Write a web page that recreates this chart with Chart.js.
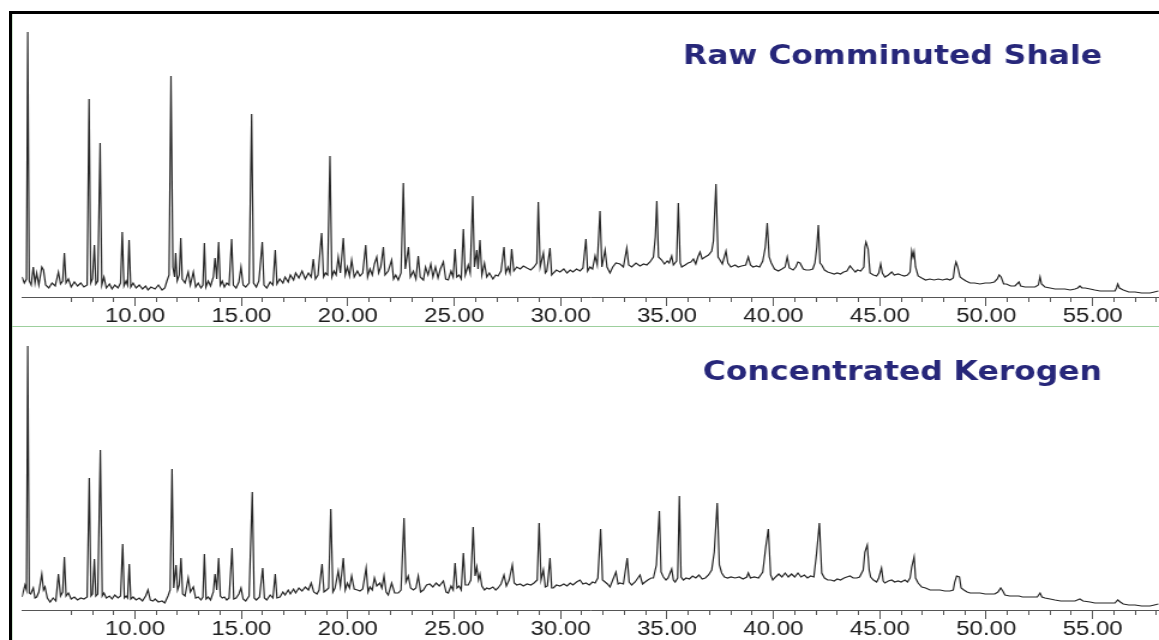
<!DOCTYPE html>
<html>
<head>
<meta charset="utf-8">
<script src="https://cdn.jsdelivr.net/npm/chart.js@4.4.1/dist/chart.umd.min.js"></script>
<style>
  html, body { margin: 0; padding: 0; background: #fff; }
  body { width: 1159px; height: 640px; position: relative; overflow: hidden; }
  /* the original figure is stretched sideways, so the canvases are too */
  .panel { position: absolute; left: 0; width: 966px; transform: scaleX(1.19979); transform-origin: 0 0; }
  #topPanel { top: 0; height: 326px; }
  #bottomPanel { top: 326px; height: 314px; }
  .frame { position: absolute; left: 9px; top: 11px; right: 0; bottom: 0; border-left: 3px solid #000; border-top: 3px solid #000; }
  .inner { position: absolute; left: 12px; top: 14px; bottom: 0; width: 1px; background: #cfe6cf; }
  .sep { position: absolute; left: 12px; right: 0; top: 326px; height: 1px; background: #9dcf9d; }
</style>
</head>
<body>
<div class="panel" id="topPanel"><canvas id="shale" width="966" height="326"></canvas></div>
<div class="panel" id="bottomPanel"><canvas id="kerogen" width="966" height="314"></canvas></div>
<div class="frame"></div>
<div class="inner"></div>
<div class="sep"></div>
<script>
// retention time (min) and abundance
const shaleTime = [4.69,4.80,4.90,4.96,5.03,5.12,5.22,5.30,5.38,5.48,5.62,5.70,5.80,5.95,6.10,6.25,6.40,6.50,6.60,6.68,6.76,6.87,7.00,7.15,7.30,7.45,7.60,7.75,7.84,7.92,8.00,8.09,8.16,8.25,8.36,8.44,8.54,8.65,8.80,8.92,9.05,9.20,9.32,9.40,9.48,9.58,9.65,9.72,9.80,9.91,10.05,10.20,10.35,10.50,10.61,10.75,10.94,11.10,11.27,11.40,11.50,11.60,11.69,11.78,11.86,11.91,11.98,12.08,12.15,12.22,12.35,12.50,12.60,12.74,12.85,12.97,13.10,13.19,13.26,13.33,13.44,13.55,13.68,13.76,13.84,13.93,14.01,14.10,14.20,14.31,14.42,14.54,14.62,14.75,14.88,14.98,15.08,15.20,15.36,15.48,15.57,15.70,15.82,15.98,16.06,16.19,16.35,16.48,16.59,16.67,16.80,16.95,17.05,17.20,17.30,17.45,17.55,17.70,17.85,18.00,18.15,18.28,18.38,18.48,18.60,18.77,18.86,18.95,19.05,19.16,19.25,19.35,19.45,19.55,19.65,19.79,19.88,19.98,20.08,20.18,20.30,20.45,20.57,20.70,20.84,20.93,21.04,21.15,21.25,21.36,21.45,21.55,21.67,21.75,21.90,22.06,22.15,22.25,22.37,22.50,22.61,22.70,22.85,22.94,23.08,23.20,23.31,23.40,23.55,23.65,23.77,23.90,24.00,24.12,24.24,24.35,24.49,24.60,24.72,24.85,24.95,25.04,25.12,25.23,25.33,25.43,25.52,25.66,25.75,25.87,25.95,26.06,26.12,26.21,26.30,26.42,26.53,26.65,26.82,26.95,27.06,27.20,27.34,27.42,27.53,27.62,27.70,27.80,27.94,28.10,28.25,28.42,28.60,28.75,28.88,28.95,29.04,29.19,29.28,29.35,29.50,29.58,29.66,29.80,29.97,30.15,30.30,30.45,30.58,30.75,30.91,31.05,31.19,31.27,31.38,31.50,31.62,31.72,31.85,31.94,32.09,32.18,32.32,32.45,32.60,32.79,32.95,33.11,33.20,33.34,33.54,33.73,33.90,34.05,34.20,34.36,34.45,34.52,34.60,34.75,34.88,35.01,35.10,35.22,35.30,35.45,35.53,35.62,35.69,35.85,35.99,36.12,36.24,36.35,36.45,36.55,36.65,36.79,36.95,37.10,37.18,37.30,37.40,37.49,37.60,37.77,37.86,38.00,38.20,38.34,38.50,38.70,38.82,38.92,39.04,39.20,39.35,39.50,39.62,39.71,39.80,39.90,40.05,40.23,40.40,40.55,40.65,40.75,40.93,41.05,41.15,41.25,41.40,41.53,41.70,41.85,41.95,42.04,42.11,42.19,42.27,42.40,42.55,42.70,42.85,43.00,43.15,43.30,43.45,43.60,43.72,43.85,43.95,44.10,44.25,44.30,44.35,44.45,44.54,44.70,44.85,44.95,45.04,45.12,45.24,45.40,45.56,45.68,45.86,46.00,46.15,46.30,46.42,46.50,46.56,46.61,46.68,46.80,46.97,47.15,47.35,47.55,47.75,47.95,48.15,48.30,48.45,48.52,48.58,48.66,48.77,48.90,49.05,49.24,49.45,49.71,49.95,50.18,50.38,50.52,50.61,50.70,50.82,50.95,51.15,51.35,51.54,51.62,51.82,52.05,52.30,52.45,52.53,52.60,52.76,53.00,53.23,53.50,53.70,53.95,54.17,54.30,54.40,54.50,54.65,54.88,55.10,55.35,55.60,55.82,56.05,56.12,56.18,56.26,56.44,56.70,56.99,57.30,57.50,57.70,57.90,58.09];
const shaleAbund = [20,14,18,265,16,12,30,14,24,12,30,27,12,9,14,11,25,13,16,44,14,18,10,15,11,14,10,12,198,14,18,52,13,16,154,12,20,9,13,8,12,9,14,65,11,16,12,57,10,14,9,12,8,11,7,10,8,12,7,9,16,22,221,30,20,44,16,22,59,18,14,25,12,25,10,14,9,12,54,10,16,11,20,39,18,55,12,16,10,14,12,58,12,9,15,30,12,10,14,183,14,10,16,55,12,9,15,12,47,13,18,14,20,15,22,17,24,19,26,18,24,20,38,18,22,64,20,24,22,141,20,26,22,40,24,59,22,30,21,37,20,26,21,24,52,20,28,22,33,40,24,30,50,22,26,37,18,22,17,24,114,28,50,20,26,18,41,20,17,30,22,33,20,30,19,28,35,18,17,26,20,48,20,22,18,68,22,32,24,101,30,47,28,57,22,34,20,24,18,22,21,26,50,24,30,24,48,26,30,28,31,29,27,30,34,95,30,44,24,26,49,22,24,27,25,28,24,27,25,28,26,29,58,26,30,28,41,32,86,30,47,30,24,30,34,33,30,49,32,30,34,31,33,32,35,40,60,96,40,37,33,36,34,41,32,36,94,34,30,32,34,35,38,33,40,45,38,40,42,46,56,113,40,37,33,46,34,30,32,30,31,32,40,32,30,31,30,36,50,74,40,34,28,26,28,30,40,29,27,30,35,34,28,27,27,28,34,50,72,34,32,27,25,24,23,24,23,25,26,31,28,25,27,26,30,50,55,48,24,22,21,24,33,24,20,22,25,22,23,22,21,22,25,46,40,45,30,21,19,17,18,17,18,17,18,17,19,30,35,30,20,18,16,14,14,13,14,14,15,18,22,20,13,13,11,11,15,11,10,10,10,12,20,13,10,9,8,8,8,7,8,9,11,9,9,8,7,6,6,6,6,9,13,9,7,5,5,4,4,4,5,6];

const kerogenTime = [4.69,4.83,4.90,4.96,5.03,5.10,5.22,5.30,5.38,5.48,5.62,5.70,5.77,5.88,6.01,6.15,6.28,6.40,6.50,6.60,6.68,6.76,6.87,7.00,7.15,7.30,7.45,7.60,7.75,7.85,7.93,8.00,8.09,8.16,8.25,8.37,8.46,8.54,8.65,8.80,8.92,9.05,9.20,9.32,9.42,9.50,9.58,9.65,9.73,9.80,9.91,10.05,10.20,10.35,10.50,10.61,10.72,10.85,10.94,11.10,11.27,11.40,11.55,11.65,11.74,11.82,11.93,12.00,12.08,12.16,12.24,12.35,12.50,12.60,12.74,12.85,12.97,13.10,13.19,13.26,13.34,13.44,13.55,13.68,13.76,13.84,13.93,14.01,14.10,14.20,14.31,14.42,14.56,14.64,14.75,14.88,14.98,15.08,15.20,15.36,15.51,15.60,15.70,15.85,16.00,16.08,16.19,16.35,16.48,16.59,16.67,16.81,16.95,17.05,17.20,17.30,17.45,17.55,17.70,17.85,18.00,18.15,18.28,18.40,18.55,18.65,18.79,18.88,19.00,19.10,19.20,19.30,19.40,19.55,19.65,19.79,19.88,19.98,20.08,20.18,20.30,20.45,20.57,20.70,20.86,20.95,21.04,21.15,21.25,21.36,21.51,21.60,21.70,21.80,21.90,22.06,22.20,22.37,22.50,22.64,22.73,22.84,22.95,23.08,23.20,23.31,23.42,23.55,23.70,23.85,24.00,24.15,24.30,24.49,24.62,24.72,24.85,24.95,25.04,25.13,25.23,25.33,25.43,25.52,25.66,25.78,25.89,25.98,26.06,26.14,26.21,26.30,26.42,26.53,26.65,26.82,26.95,27.06,27.20,27.34,27.45,27.58,27.73,27.82,27.94,28.10,28.25,28.42,28.60,28.75,28.90,28.99,29.08,29.19,29.28,29.38,29.50,29.58,29.66,29.80,29.97,30.15,30.30,30.45,30.58,30.75,30.91,31.05,31.19,31.35,31.50,31.62,31.75,31.88,31.97,32.09,32.20,32.32,32.45,32.60,32.70,32.79,32.95,33.13,33.22,33.34,33.50,33.73,33.85,33.97,34.10,34.25,34.36,34.50,34.64,34.72,34.83,34.95,35.05,35.22,35.30,35.38,35.50,35.58,35.66,35.77,35.90,36.05,36.20,36.35,36.50,36.65,36.80,36.95,37.10,37.22,37.36,37.46,37.57,37.70,37.85,38.00,38.20,38.40,38.57,38.75,38.82,38.92,39.10,39.30,39.50,39.64,39.76,39.87,39.97,40.10,40.25,40.40,40.55,40.70,40.85,41.00,41.15,41.30,41.45,41.60,41.75,41.90,42.03,42.16,42.27,42.40,42.55,42.70,42.85,43.00,43.15,43.32,43.45,43.60,43.75,43.92,44.05,44.22,44.30,44.41,44.50,44.57,44.70,44.85,44.95,45.08,45.16,45.24,45.40,45.56,45.70,45.86,46.00,46.18,46.30,46.42,46.50,46.61,46.68,46.80,46.97,47.15,47.36,47.55,47.83,48.05,48.30,48.45,48.52,48.61,48.74,48.82,48.95,49.10,49.24,49.50,49.71,49.95,50.18,50.40,50.55,50.68,50.78,50.88,51.10,51.30,51.54,51.70,51.90,52.15,52.40,52.53,52.62,52.76,53.00,53.23,53.50,53.70,53.95,54.17,54.40,54.55,54.88,55.10,55.35,55.60,55.82,56.05,56.18,56.30,56.44,56.70,56.99,57.30,57.50,57.70,57.90,58.09];
const kerogenAbund = [13,25,20,264,17,16,22,12,13,18,36,20,23,12,8,12,9,36,14,18,53,14,17,11,13,10,12,11,13,132,14,16,51,14,16,160,14,17,12,14,11,15,12,14,66,12,14,12,46,11,13,10,12,9,14,20,10,9,11,8,9,7,14,20,141,22,45,20,25,52,16,14,32,18,23,12,13,10,13,56,11,13,10,18,36,20,52,14,12,13,10,12,62,11,12,16,22,11,9,14,118,12,10,13,42,12,10,15,12,36,12,13,18,15,20,16,21,17,22,19,23,20,27,18,16,20,46,18,20,22,101,18,22,39,24,52,20,27,22,34,21,20,19,21,42,18,23,20,32,24,27,22,34,18,15,27,17,17,20,92,28,34,22,20,22,34,18,20,25,26,23,27,24,29,18,17,24,20,47,22,24,20,57,25,25,30,83,34,43,30,36,24,20,22,21,23,20,22,26,35,24,30,45,27,25,26,24,26,25,27,30,87,30,40,23,24,52,22,22,25,24,26,24,27,25,28,30,26,27,25,28,27,32,81,30,28,26,23,30,38,26,27,26,52,28,25,28,35,26,28,30,32,32,45,99,38,33,30,32,41,30,28,32,114,33,30,32,31,34,32,35,31,32,35,40,58,107,45,37,33,32,33,32,33,31,33,37,32,33,32,38,63,81,35,30,33,36,33,37,33,36,33,37,33,35,32,34,33,57,87,37,32,30,30,29,31,30,32,33,34,32,32,33,40,58,65,40,33,30,28,32,42,29,27,29,30,28,29,28,30,28,32,43,53,32,27,23,22,20,20,20,19,19,20,28,34,33,22,20,18,17,17,17,16,16,16,18,22,19,15,14,14,14,13,13,13,13,17,13,12,11,10,9,9,9,9,11,9,8,7,7,7,7,7,10,8,6,5,5,4,4,4,5,6];

const tickValues = [7,8,9,10,11,12,13,14,15,16,17,18,19,20,21,22,23,24,25,26,27,28,29,30,31,32,33,34,35,36,37,38,39,40,41,42,43,44,45,46,47,48,49,50,51,52,53,54,55,56,57,58];
const majorTicks = [10,15,20,25,30,35,40,45,50,55];

const panelTitle = {
  id: 'panelTitle',
  afterDraw(chart, args, opts) {
    const ctx = chart.ctx;
    ctx.save();
    ctx.font = 'bold 26.2px "DejaVu Sans", sans-serif';
    ctx.fillStyle = '#27277a';
    ctx.textAlign = 'right';
    ctx.textBaseline = 'alphabetic';
    ctx.fillText(opts.text, opts.right, opts.baseline);
    ctx.restore();
  }
};

function makePanel(id, times, abund, yMax, padTop, axisHeight, title, titleBaseline) {
  const points = times.map((t, i) => ({x: t, y: abund[i]}));
  return new Chart(document.getElementById(id), {
    type: 'line',
    data: {
      datasets: [{
        data: points,
        borderColor: '#262626',
        borderWidth: 1.2,
        pointRadius: 0,
        tension: 0,
        fill: false
      }]
    },
    options: {
      responsive: false,
      animation: false,
      events: [],
      layout: {padding: {left: 18.34, right: 0, top: padTop, bottom: 0}},
      plugins: {
        legend: {display: false},
        tooltip: {enabled: false},
        panelTitle: {text: title, right: 918.5, baseline: titleBaseline}
      },
      scales: {
        x: {
          type: 'linear',
          min: 4.69,
          max: 58.12,
          afterBuildTicks: scale => { scale.ticks = tickValues.map(v => ({value: v})); },
          afterFit: scale => { scale.height = axisHeight; },
          grid: {
            drawOnChartArea: false,
            tickLength: 9,
            tickColor: '#555',
            tickWidth: 1,
            tickBorderDash: c => (c.tick && majorTicks.includes(c.tick.value)) ? [] : [4, 40]
          },
          border: {display: true, color: '#555', width: 1},
          ticks: {
            autoSkip: false,
            maxRotation: 0,
            padding: -2,
            color: '#1e1e1e',
            font: {family: '"Liberation Sans", Arial, sans-serif', size: 20},
            callback: v => majorTicks.includes(v) ? v.toFixed(2) : ''
          }
        },
        y: {display: false, min: 0, max: yMax}
      }
    },
    plugins: [panelTitle]
  });
}

makePanel('shale', shaleTime, shaleAbund, 283, 14, 29, 'Raw Comminuted Shale', 64);
makePanel('kerogen', kerogenTime, kerogenAbund, 280, 4, 30, 'Concentrated Kerogen', 54);
</script>
</body>
</html>
